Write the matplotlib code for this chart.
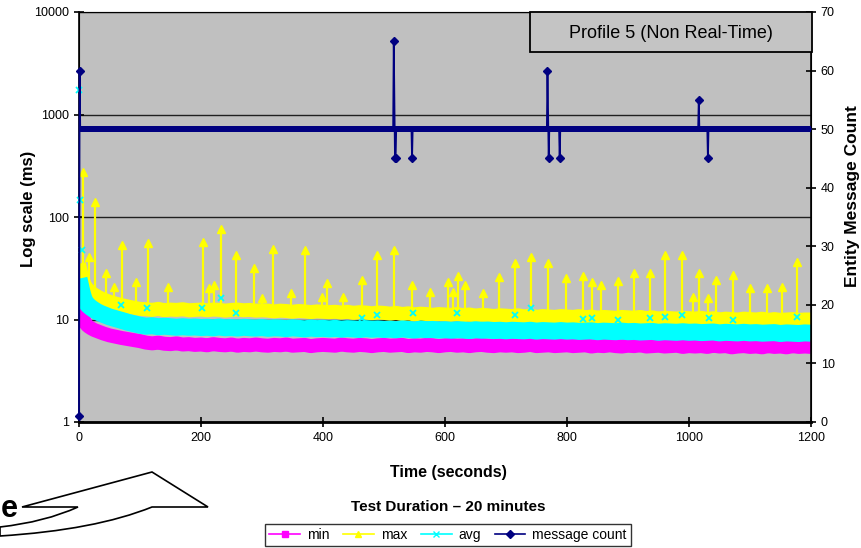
import numpy as np
import matplotlib
matplotlib.use('Agg')
import matplotlib.pyplot as plt
from matplotlib.path import Path
from matplotlib.patches import PathPatch, Rectangle
from matplotlib.lines import Line2D

plt.rcParams['font.family'] = ['Liberation Sans', 'DejaVu Sans']

# ---- data ----
times = [0, 2, 4, 6, 8, 10, 13, 16, 20, 25, 30, 35, 40, 45, 50, 55, 60, 70, 80, 90, 100] + list(range(110, 1201, 10))

min_ms = [17.0, 14.5, 12.5, 11.0, 10.0, 9.3, 8.8, 8.5, 8.2, 7.9, 7.7, 7.5, 7.3, 7.15, 7.0, 6.9, 6.8, 6.6, 6.45, 6.3, 6.15,
          5.95, 5.85, 5.95, 5.8, 5.75, 5.85, 5.7, 5.75, 5.65, 5.7,
          5.6, 5.75, 5.65, 5.6, 5.7, 5.55, 5.65, 5.6, 5.7, 5.6,
          5.55, 5.65, 5.6, 5.7, 5.55, 5.6, 5.65, 5.5, 5.6, 5.65,
          5.6, 5.55, 5.7, 5.6, 5.55, 5.65, 5.6, 5.5, 5.6, 5.65,
          5.55, 5.6, 5.65, 5.5, 5.6, 5.55, 5.65, 5.6, 5.5, 5.6,
          5.65, 5.55, 5.6, 5.5, 5.6, 5.65, 5.55, 5.5, 5.6, 5.55,
          5.6, 5.5, 5.55, 5.65, 5.5, 5.55, 5.6, 5.5, 5.55, 5.6,
          5.5, 5.55, 5.6, 5.45, 5.55, 5.5, 5.6, 5.5, 5.45, 5.55,
          5.5, 5.6, 5.45, 5.5, 5.55, 5.45, 5.5, 5.55, 5.4, 5.5,
          5.45, 5.5, 5.4, 5.55, 5.45, 5.5, 5.35, 5.45, 5.5, 5.4,
          5.45, 5.35, 5.5, 5.4, 5.45, 5.35, 5.5, 5.4, 5.45, 5.4]

avg_ms = [25.0, 22.0, 19.5, 17.5, 16.0, 15.0, 14.2, 13.6, 13.0, 12.4, 11.9, 11.5, 11.2, 10.9, 10.6, 10.4, 10.2, 9.8, 9.4, 9.1, 8.8,
          8.6, 8.7, 8.5, 8.6, 8.5, 8.4, 8.5, 8.4, 8.45, 8.35,
          8.4, 8.3, 8.45, 8.3, 8.35, 8.25, 8.4, 8.3, 8.25, 8.35,
          8.2, 8.3, 8.25, 8.15, 8.3, 8.2, 8.1, 8.25, 8.15, 8.2,
          8.1, 8.2, 8.05, 8.15, 8.1, 8.0, 8.15, 8.05, 8.1, 8.0,
          8.05, 7.95, 8.1, 8.0, 7.9, 8.05, 7.95, 8.0, 7.9, 7.95,
          7.85, 7.95, 7.9, 7.8, 7.95, 7.85, 7.9, 7.8, 7.85, 7.75,
          7.85, 7.8, 7.75, 7.85, 7.7, 7.8, 7.75, 7.7, 7.8, 7.7,
          7.75, 7.65, 7.7, 7.75, 7.6, 7.7, 7.65, 7.6, 7.7, 7.6,
          7.65, 7.55, 7.6, 7.65, 7.5, 7.6, 7.55, 7.5, 7.6, 7.5,
          7.55, 7.45, 7.5, 7.55, 7.4, 7.5, 7.45, 7.4, 7.5, 7.4,
          7.45, 7.35, 7.4, 7.45, 7.3, 7.4, 7.35, 7.3, 7.4, 7.35]

max_ms = [35.0, 31.0, 27.5, 25.0, 23.0, 21.5, 20.2, 19.3, 18.4, 17.5, 16.8, 16.2, 15.7, 15.3, 14.9, 14.6, 14.3, 13.8, 13.4, 13.0, 12.7,
          12.6, 12.4, 12.7, 12.3, 12.5, 12.4, 12.6, 12.3, 12.4, 12.5,
          12.3, 12.5, 12.4, 12.2, 12.4, 12.5, 12.3, 12.4, 12.2, 12.3,
          12.2, 12.0, 12.2, 12.1, 11.9, 12.1, 12.0, 11.8, 12.0, 11.9,
          11.8, 11.9, 11.7, 11.9, 11.6, 11.8, 11.7, 11.5, 11.7, 11.6,
          11.4, 11.6, 11.3, 11.5, 11.2, 11.4, 11.3, 11.1, 11.3, 11.2,
          11.1, 11.3, 11.0, 11.2, 10.9, 11.1, 11.0, 10.8, 11.0, 10.9,
          10.8, 11.0, 10.7, 10.9, 10.6, 10.8, 10.7, 10.6, 10.8, 10.7,
          10.6, 10.8, 10.5, 10.7, 10.4, 10.6, 10.5, 10.4, 10.6, 10.5,
          10.4, 10.6, 10.3, 10.5, 10.2, 10.4, 10.3, 10.2, 10.4, 10.3,
          10.2, 10.4, 10.1, 10.3, 10.0, 10.2, 10.1, 10.0, 10.2, 10.1,
          10.0, 10.2, 9.9, 10.1, 9.9, 10.0, 10.1, 9.9, 10.0, 10.0]

# max spikes (time s, ms)
spike_t = [7, 16, 27, 44, 57, 70, 93, 113, 146, 203, 213, 221, 233, 257, 287, 300, 318, 347, 370,
           398, 406, 433, 464, 488, 516, 546, 575, 605, 613, 621, 633, 662, 688, 715, 741, 769,
           798, 826, 841, 856, 883, 910, 936, 960, 988, 1006, 1016, 1031, 1044, 1072, 1100, 1128, 1152, 1177]
spike_v = [274, 41, 139, 28.5, 20.8, 53, 23.2, 55.7, 20.8, 57, 20.3, 21.7, 76, 42.4, 31.8, 16.2, 48.7, 18.2, 48,
           16.6, 22.7, 16.6, 24.3, 42.4, 47.6, 21.7, 18.6, 23.2, 18.6, 26.6, 21.7, 18.2, 26, 35.6, 40.7, 35.6,
           25.4, 26.6, 23.2, 21.7, 23.7, 28.5, 28.5, 42.4, 42.4, 16.6, 28.5, 16.2, 24.3, 27.2, 20.3, 20.3, 20.8, 36.3]

# avg points standing out of the cyan band
avg_out_t = [0, 1, 5, 69, 111, 202, 233, 257, 464, 488, 547, 620, 715, 741, 826, 841, 883, 936, 960, 988, 1033, 1072, 1177]
avg_out_v = [1750, 145, 48, 13.8, 12.9, 12.9, 16.2, 11.6, 10.3, 11.0, 11.6, 11.6, 11.0, 12.9, 10.1, 10.3, 9.9, 10.3, 10.6, 11.0, 10.3, 9.9, 10.6]

# entity message count (right axis)
count_t = [0, 1, 2, 515, 516, 518, 519, 520, 545, 546, 547, 767, 768, 770, 771, 787, 788, 789, 1015, 1016, 1017, 1030, 1031, 1032, 1200]
count_v = [1, 60, 50, 50, 65, 45, 45, 50, 50, 45, 50, 50, 60, 45, 50, 50, 45, 50, 50, 55, 50, 50, 45, 50, 50]

x_ticks = [0, 200, 400, 600, 800, 1000, 1200]
left_ticks = [1, 10, 100, 1000, 10000]
right_ticks = [0, 10, 20, 30, 40, 50, 60, 70]

MAG, YEL, CYA, NAVY = '#FF00FF', '#FFFF00', '#00FFFF', '#000080'
W, H = 861, 548
P = 72 / 100  # px -> pt


def fx(x, y):
    return (x / W, 1 - y / H)


fig = plt.figure(figsize=(W / 100, H / 100), dpi=100)
ax = fig.add_axes([79 / W, 126 / H, 732 / W, 410 / H])
ax.set_facecolor('#C0C0C0')
ax.set_yscale('log')
ax.set_xlim(0, 1200)
ax.set_ylim(1, 10000)
ax.yaxis.grid(True, which='major', color='#202020', lw=1.0)
ax.set_axisbelow(True)

ax.plot(times, min_ms, color=MAG, lw=14 * P, solid_capstyle='butt', zorder=2)
ax.plot(times, min_ms, 's', color=MAG, ms=4, zorder=2)

tv = np.array(spike_t)
ax.vlines(tv, np.interp(tv, times, max_ms), spike_v, color=YEL, lw=1.6, zorder=3)
ax.plot(times, max_ms, color=YEL, lw=14 * P, solid_capstyle='butt', zorder=3)
ax.plot(spike_t, spike_v, '^', color=YEL, ms=6, zorder=3, clip_on=False)

ax.plot(times, avg_ms, color=CYA, lw=17 * P, solid_capstyle='butt', zorder=4)
ax.plot(avg_out_t, avg_out_v, 'x', color=CYA, ms=5, mew=1.3, zorder=4, clip_on=False)

ax.set_xticks(x_ticks)
ax.set_xticklabels([str(v) for v in x_ticks])
ax.set_yticks(left_ticks)
ax.set_yticklabels([str(v) for v in left_ticks])
ax.yaxis.set_minor_locator(matplotlib.ticker.NullLocator())
ax.tick_params(axis='both', direction='inout', length=7, width=1.2, labelsize=9, colors='black')
ax.tick_params(axis='x', pad=4)
ax.spines['bottom'].set_linewidth(2)
ax.spines['left'].set_linewidth(1.2)
ax.spines['top'].set_color('#707070')

ax2 = ax.twinx()
ax2.set_ylim(0, 70)
ax2.set_yticks(right_ticks)
ax2.tick_params(axis='y', direction='inout', length=7, width=1.2, labelsize=9)
ax2.spines['right'].set_linewidth(1.2)
ct = np.array(count_t)
cv = np.array(count_v)
base = cv == 50
ax2.plot(ct[base], cv[base], color=NAVY, lw=6 * P, solid_capstyle='butt', zorder=5)
ax2.plot(ct, cv, color=NAVY, lw=1.3, zorder=5, clip_on=False)
ax2.plot(ct[~base], cv[~base], 'D', color=NAVY, ms=4, zorder=6, clip_on=False)

# axis titles
fig.text(*fx(28, 209), 'Log scale (ms)', rotation=90, ha='center', va='center', fontsize=12, fontweight='bold')
fig.text(*fx(853, 196), 'Entity Message Count', rotation=90, ha='center', va='center', fontsize=12.5, fontweight='bold')
fig.text(*fx(448, 473), 'Time (seconds)', ha='center', va='center', fontsize=11.5, fontweight='bold')
fig.text(*fx(448, 507), 'Test Duration \u2013 20 minutes', ha='center', va='center', fontsize=11, fontweight='bold')

# profile box
x0, y0 = fx(530, 52)
fig.patches.append(Rectangle((x0, y0), 282 / W, 40 / H, transform=fig.transFigure,
                             facecolor='#C4C4C4', edgecolor='black', lw=1.3, zorder=10))
fig.text(*fx(671, 33), 'Profile 5 (Non Real-Time)', ha='center', va='center', fontsize=13, zorder=11)

# legend
handles = [Line2D([], [], color=MAG, marker='s', ms=5, lw=1.2),
           Line2D([], [], color=YEL, marker='^', ms=5, lw=1.2),
           Line2D([], [], color=CYA, marker='x', ms=5, lw=1.2),
           Line2D([], [], color=NAVY, marker='D', ms=4, lw=1.2)]
leg = fig.legend(handles, ['min', 'max', 'avg', 'message count'], loc='center', bbox_to_anchor=fx(448, 535),
                 ncol=4, fancybox=False, edgecolor='black', fontsize=10, handlelength=2.2, handletextpad=0.5,
                 columnspacing=1.0, borderpad=0.3)
leg.get_frame().set_linewidth(1.0)

# slide decoration at lower left (cut-off word and block arrow)
verts = [fx(0, 536), fx(95, 530), fx(152, 507), fx(208, 507), fx(152, 472), fx(22, 507), fx(78, 507),
         fx(45, 522), fx(0, 527), fx(0, 536)]
codes = [Path.MOVETO, Path.CURVE3, Path.CURVE3, Path.LINETO, Path.LINETO, Path.LINETO, Path.LINETO,
         Path.CURVE3, Path.CURVE3, Path.CLOSEPOLY]
fig.patches.append(PathPatch(Path(verts, codes), transform=fig.transFigure, facecolor='white',
                             edgecolor='black', lw=1.2))
fig.text(*fx(1, 517), 'e', ha='left', va='baseline', fontsize=22, fontweight='bold')

fig.savefig('out.png', dpi=100)
